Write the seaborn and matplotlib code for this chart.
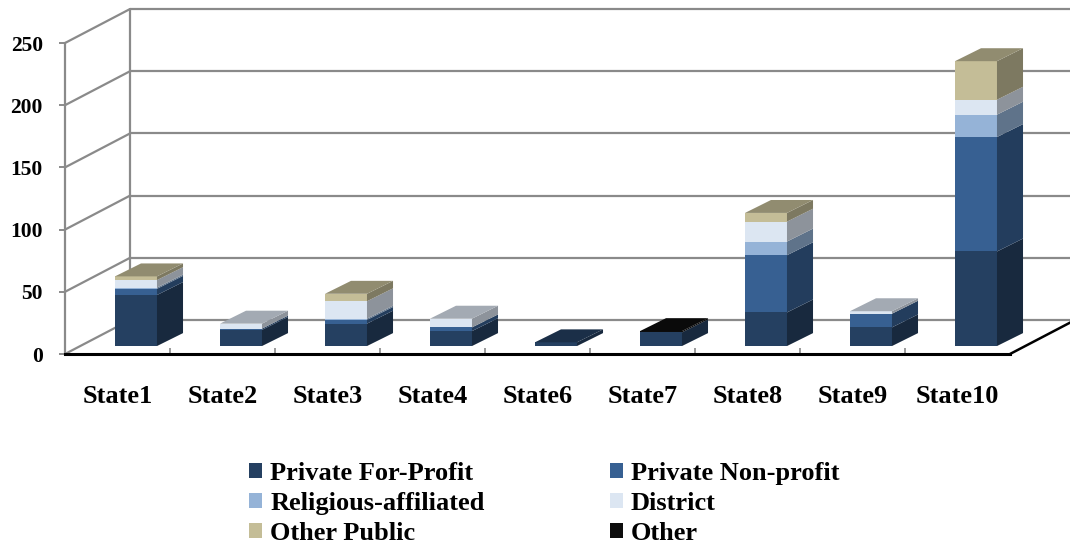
import numpy as np
import matplotlib
matplotlib.use("Agg")
import matplotlib.pyplot as plt
from matplotlib.patches import Polygon, Patch
from matplotlib.colors import to_rgb
import seaborn as sns

# ---- data -------------------------------------------------------------
states = ["State1", "State2", "State3", "State4", "State6",
          "State7", "State8", "State9", "State10"]
private_for_profit = [41, 13, 18, 12, 3, 11, 27, 15, 76]
private_non_profit = [5, 1, 3, 3, 0, 0, 46, 11, 92]
religious_affiliated = [1, 0, 1, 0, 0, 0, 11, 0, 18]
district = [6, 4, 14, 7, 0, 0, 16, 2, 12]
other_public = [3, 0, 6, 0, 0, 0, 7, 0, 31]
other = [0, 0, 0, 0, 0, 1, 0, 0, 0]

series_names = ["Private For-Profit", "Private Non-profit", "Religious-affiliated",
                "District", "Other Public", "Other"]
series_values = [private_for_profit, private_non_profit, religious_affiliated,
                 district, other_public, other]
series_colors = ["#254061", "#376092", "#95B3D7", "#DCE6F2", "#C4BD97", "#0D0D0D"]
y_ticks = [0, 50, 100, 150, 200, 250]

# ---- style ------------------------------------------------------------
sns.set_theme(style="white")
plt.rcParams["font.family"] = ["Liberation Serif", "DejaVu Serif"]
plt.rcParams["font.weight"] = "bold"
plt.rcParams["text.color"] = "black"

W, H = 1070, 543
fig = plt.figure(figsize=(W / 100, H / 100), dpi=100)
ax = fig.add_axes([65 / W, 189 / H, 1005 / W, 354 / H])

# pseudo-3D geometry, in data units
bar_w = 0.4
front_dx, front_dy = -0.176, -6.4   # front plane relative to the bar plane
wall_dx, wall_dy = 0.619, 27.3      # back wall relative to the front plane
depth_dx, depth_dy = 0.248, 10.4    # depth of each bar
px_per_cat, px_per_unit = 105, 1.244

grid_color = "#8a8a8a"


def shade(color, f):
    r, g, b = to_rgb(color)
    return (r * f, g * f, b * f)


# ---- front faces: stacked bars drawn top-down with seaborn ---------------
vals = np.array(series_values, dtype=float)
cum = np.cumsum(vals, axis=0)
for k in range(len(series_names) - 1, -1, -1):
    sns.barplot(x=states, y=cum[k], color=series_colors[k], width=bar_w,
                saturation=1, errorbar=None, linewidth=0, ax=ax, zorder=3)

# ---- side and top faces ------------------------------------------------
n = len(states)
for i in range(n):
    xr = i + bar_w / 2
    xl = i - bar_w / 2
    base = 0.0
    top_color = None
    for k in range(len(series_names)):
        h = vals[k, i]
        if h <= 0:
            continue
        side = Polygon([(xr, base), (xr + depth_dx, base + depth_dy),
                        (xr + depth_dx, base + h + depth_dy), (xr, base + h)],
                       closed=True, facecolor=shade(series_colors[k], 0.64),
                       edgecolor="none", zorder=3)
        ax.add_patch(side)
        base += h
        top_color = series_colors[k]
    if top_color is not None:
        top = Polygon([(xl, base), (xr, base), (xr + depth_dx, base + depth_dy),
                       (xl + depth_dx, base + depth_dy)],
                      closed=True, facecolor=shade(top_color, 0.74),
                      edgecolor="none", zorder=3)
        ax.add_patch(top)

# ---- walls -------------------------------------------------------------
x_front_left = -0.5 + front_dx
x_front_right = n - 0.5 + front_dx
x_back_left = x_front_left + wall_dx
for v in y_ticks:
    yf = v + front_dy
    yb = yf + wall_dy
    ax.plot([x_back_left, n + 2], [yb, yb], color=grid_color, lw=1.6, zorder=1,
            solid_capstyle="butt")
    ax.plot([x_front_left, x_back_left], [yf, yb], color=grid_color, lw=1.6,
            zorder=1)
ax.plot([x_back_left, x_back_left],
        [front_dy + wall_dy, y_ticks[-1] + front_dy + wall_dy],
        color=grid_color, lw=1.6, zorder=1)
# right floor edge
ax.plot([x_front_right, x_front_right + wall_dx], [front_dy, front_dy + wall_dy],
        color="black", lw=1.8, zorder=2, clip_on=False)

# ---- axes --------------------------------------------------------------
ax.set_xlim(x_front_left, x_front_left + (W - 65) / px_per_cat)
ax.set_ylim(front_dy, front_dy + 354 / px_per_unit)
ax.set_xlabel("")
ax.set_ylabel("")

for s in ("top", "right"):
    ax.spines[s].set_visible(False)
ax.spines["left"].set_color(grid_color)
ax.spines["left"].set_linewidth(1.6)
ax.spines["left"].set_bounds(front_dy, y_ticks[-1] + front_dy)
ax.spines["bottom"].set_color("black")
ax.spines["bottom"].set_linewidth(2.2)
ax.spines["bottom"].set_bounds(x_front_left, x_front_right)

ax.set_xticks([i + front_dx for i in range(n)], states)
ax.set_xticks([i + 0.5 + front_dx for i in range(n - 1)], minor=True)
ax.tick_params(axis="x", which="major", length=0, pad=22, labelsize=19)
ax.tick_params(axis="x", which="minor", bottom=True, direction="in",
               length=4.5, width=1.2, color=grid_color)
ax.set_yticks([v + front_dy for v in y_ticks], [str(v) for v in y_ticks])
ax.tick_params(axis="y", left=True, length=4, width=1.4, color=grid_color,
               pad=12, labelsize=15.5)
for lab in ax.get_xticklabels() + ax.get_yticklabels():
    lab.set_fontweight("bold")
    lab.set_color("black")

# ---- legend (row-major order over two columns) ---------------------------
handles = [Patch(facecolor=c, edgecolor="none") for c in series_colors]
order = [0, 2, 4, 1, 3, 5]
fig.legend([handles[j] for j in order], [series_names[j] for j in order],
           ncol=2, loc="upper left", bbox_to_anchor=(249 / W, 1 - 462 / H),
           frameon=False, handlelength=0.5, handleheight=0.5,
           handletextpad=0.3, labelspacing=0.26, columnspacing=4.75,
           borderpad=0, borderaxespad=0, labelcolor="black",
           prop={"weight": "bold", "size": 19})

fig.savefig("out.png", dpi=100)
